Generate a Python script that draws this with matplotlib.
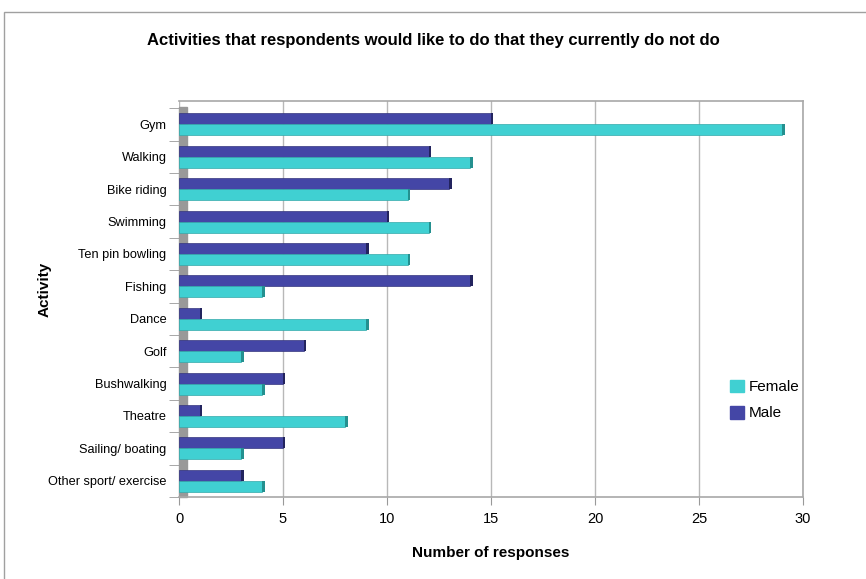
import numpy as np
import matplotlib
matplotlib.use("Agg")
import matplotlib.pyplot as plt
from matplotlib.patches import Rectangle, Patch

plt.rcParams['font.family'] = ['Liberation Sans', 'DejaVu Sans']

activities = ['Gym', 'Walking', 'Bike riding', 'Swimming', 'Ten pin bowling', 'Fishing',
              'Dance', 'Golf', 'Bushwalking', 'Theatre', 'Sailing/ boating',
              'Other sport/ exercise']
male = [15, 12, 13, 10, 9, 14, 1, 6, 5, 1, 5, 3]
female = [29, 14, 11, 12, 11, 4, 9, 3, 4, 8, 3, 4]

c_female = '#40D0D2'
c_female_side = '#24908f'
c_male = '#4446A6'
c_male_side = '#23245e'

fig = plt.figure(figsize=(8.66, 5.79), dpi=100)
# outer chart frame
fig.patches.append(Rectangle((4 / 866, -0.01), 1.0, 1 - 12 / 579 + 0.01,
                             transform=fig.transFigure, fill=False,
                             edgecolor='#a0a0a0', linewidth=1.0))

ax = fig.add_axes([179 / 866, 1 - 497 / 579, (803 - 179) / 866, (497 - 101) / 579])

y = np.arange(len(activities))
h = 0.34
side = 0.12
ax.barh(y - h / 2, male, height=h, color=c_male, edgecolor='#34357e', linewidth=0.5, zorder=3)
ax.barh(y - h / 2, side, left=male, height=h, color=c_male_side, linewidth=0, zorder=3)
ax.barh(y + h / 2, female, height=h, color=c_female, edgecolor='#33a9aa', linewidth=0.5, zorder=3)
ax.barh(y + h / 2, side, left=female, height=h, color=c_female_side, linewidth=0, zorder=3)

ax.set_xlim(0, 30)
ax.set_ylim(len(activities) - 0.5, -0.72)

# left grey wall
ax.add_patch(Rectangle((0, 0), 0.013, 0.985, transform=ax.transAxes,
                       color='#999999', zorder=2, clip_on=False))

ax.set_xticks(np.arange(0, 31, 5))
ax.xaxis.grid(True, color='#b8b8b8', linewidth=1.0, zorder=0)
ax.set_axisbelow(True)
ax.set_yticks(y)
ax.set_yticklabels(activities)
ax.set_yticks(np.arange(-0.5, len(activities), 1), minor=True)
ax.tick_params(axis='y', which='major', length=0, pad=9, labelsize=9.2)
ax.tick_params(axis='y', which='minor', length=7, color='#999999')
ax.tick_params(axis='x', length=6, color='#999999', labelsize=10.5, pad=5)

for s in ['top', 'right', 'bottom']:
    ax.spines[s].set_color('#a8a8a8')
    ax.spines[s].set_linewidth(1.2)
ax.spines['left'].set_visible(False)

ax.set_xlabel('Number of responses', fontsize=11, fontweight='bold', labelpad=14)
fig.text(45 / 866, 1 - 289 / 579, 'Activity', rotation=90, ha='center', va='center',
         fontsize=11, fontweight='bold')
fig.text(0.5, 1 - 40 / 579, 'Activities that respondents would like to do that they currently do not do',
         ha='center', va='center', fontsize=12, fontweight='bold')

handles = [Patch(color=c_female, label='Female'), Patch(color=c_male, label='Male')]
fig.legend(handles=handles, loc='upper left', bbox_to_anchor=(716 / 866, 1 - 366 / 579),
           frameon=False, prop={'size': 11},
           handlelength=0.9, handleheight=0.9, handletextpad=0.35, labelspacing=0.75)

fig.savefig('out.png', dpi=100)
